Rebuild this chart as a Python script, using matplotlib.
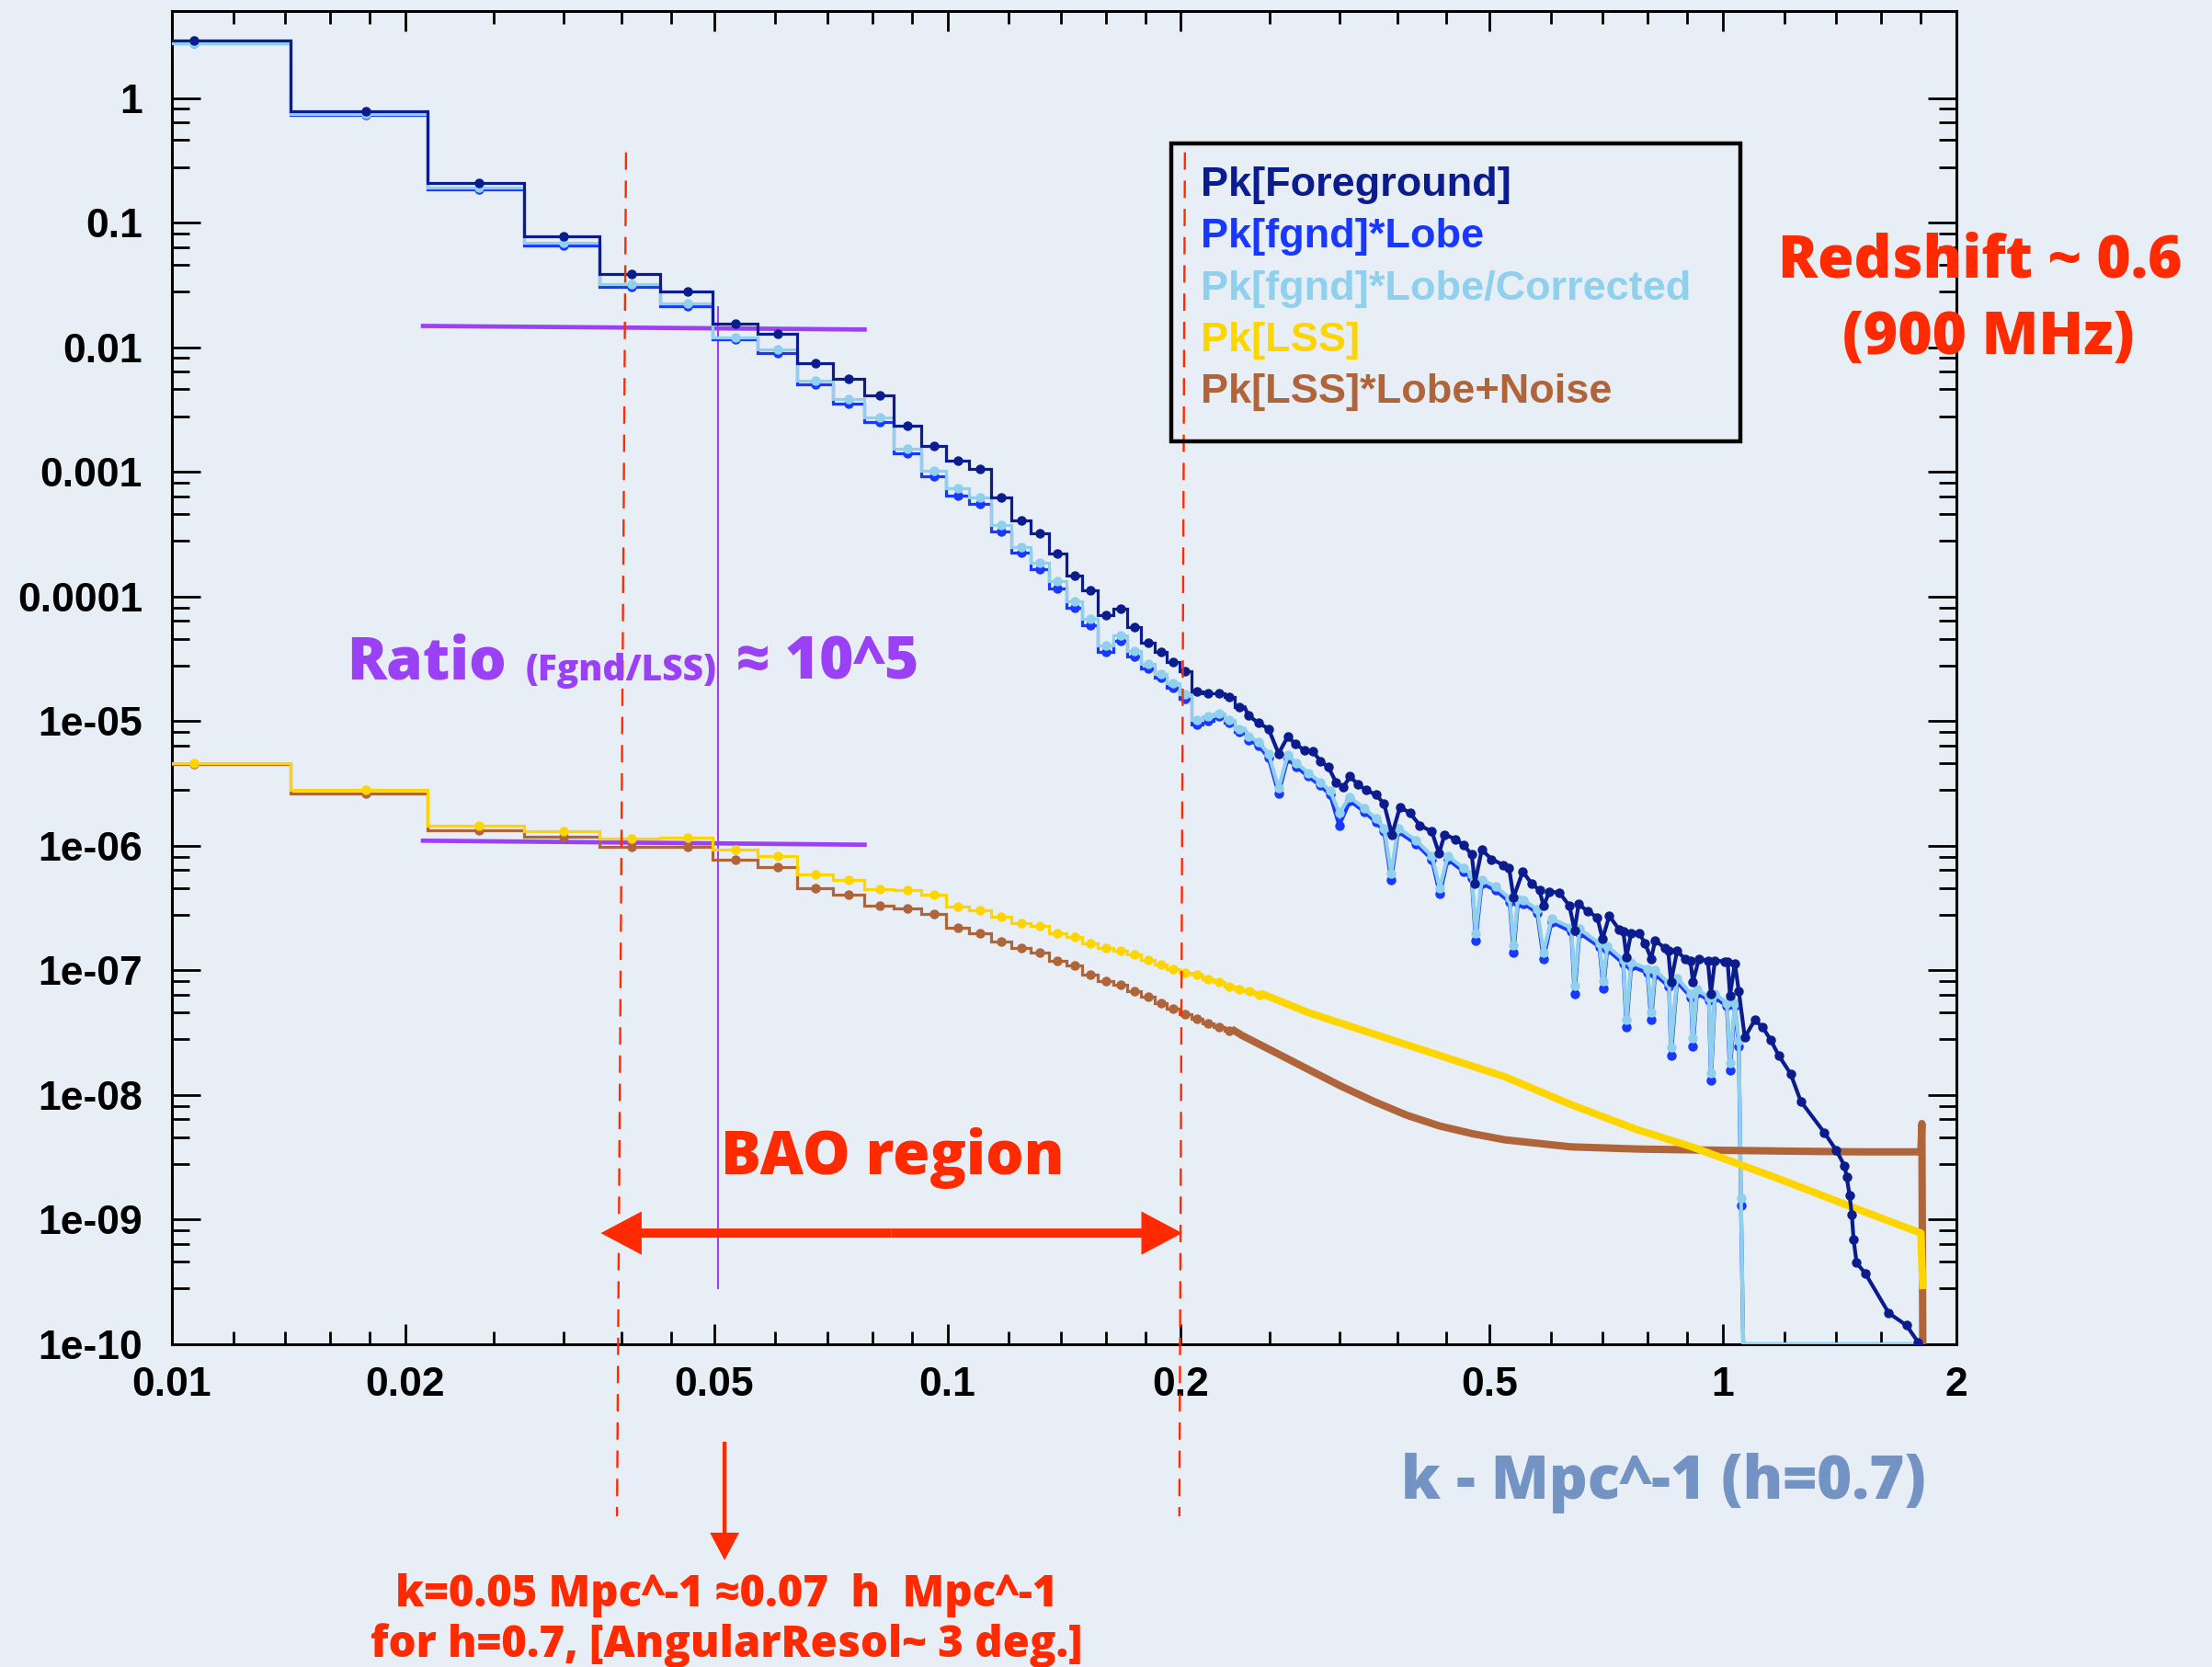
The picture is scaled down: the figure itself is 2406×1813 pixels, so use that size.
import numpy as np
import matplotlib
matplotlib.use("Agg")
import matplotlib.pyplot as plt
import matplotlib.transforms as mtransforms
from matplotlib.patches import Rectangle
from matplotlib.ticker import FixedLocator, FixedFormatter, NullFormatter

W, H, DPI = 2406, 1813, 100
YMIN, YMAX = 1e-10, 5.0
XMIN, XMAX = 0.01, 2.0

# histogram bin width in k (Mpc^-1); bin i spans [i*DK, (i+1)*DK], i = 1, 2, ...
DK = 0.00711

# ---- low-k bins, one value per bin ----
FGND_LOW = [2.90, 0.788, 0.210, 0.0785, 0.0386, 0.0281, 0.0155, 0.01294, 0.0075, 5.55e-3,
            4.12e-3, 2.34e-3, 1.62e-3, 1.24e-3, 1.05e-3, 6.3e-4, 4.1e-4, 3.2e-4, 2.2e-4, 1.48e-4,
            1.13e-4, 7.1e-5, 8.0e-5, 5.7e-5, 4.3e-5, 3.6e-5, 3.0e-5, 2.5e-5, 1.72e-5, 1.68e-5,
            1.68e-5, 1.56e-5, 1.29e-5]
LOBE_LOW = [2.74, 0.736, 0.184, 0.066, 0.0308, 0.0215, 0.01155, 0.00906, 5.07e-3, 3.55e-3,
            2.52e-3, 1.41e-3, 9.3e-4, 6.5e-4, 5.5e-4, 3.33e-4, 2.24e-4, 1.66e-4, 1.16e-4, 8.2e-5,
            5.9e-5, 3.6e-5, 4.4e-5, 3.33e-5, 2.66e-5, 2.24e-5, 1.87e-5, 1.51e-5, 9.4e-6, 1.0e-5,
            1.09e-5, 9.75e-6, 8.2e-6]
CORR_LOW = [2.78, 0.745, 0.192, 0.0689, 0.0321, 0.0224, 0.0120, 0.00964, 5.37e-3, 3.83e-3,
            2.72e-3, 1.54e-3, 1.03e-3, 7.45e-4, 6.3e-4, 3.77e-4, 2.5e-4, 1.88e-4, 1.32e-4, 9.1e-5,
            6.6e-5, 4.07e-5, 4.9e-5, 3.63e-5, 2.9e-5, 2.41e-5, 2.02e-5, 1.64e-5, 1.03e-5, 1.09e-5,
            1.16e-5, 1.02e-5, 8.7e-6]
LSS_LOW = [4.64e-6, 2.8e-6, 1.46e-6, 1.31e-6, 1.14e-6, 1.16e-6, 9.4e-7, 8.3e-7, 5.9e-7, 5.3e-7,
           4.5e-7, 4.4e-7, 4.07e-7, 3.23e-7, 3.02e-7, 2.69e-7, 2.4e-7, 2.27e-7, 2.0e-7, 1.85e-7,
           1.66e-7, 1.51e-7, 1.44e-7, 1.34e-7, 1.21e-7, 1.11e-7, 1.02e-7, 9.6e-8, 9.2e-8, 8.5e-8,
           8.1e-8, 7.4e-8, 7.0e-8, 6.8e-8, 6.4e-8]
NOISE_LOW = [4.49e-6, 2.62e-6, 1.33e-6, 1.18e-6, 9.8e-7, 9.8e-7, 7.7e-7, 6.7e-7, 4.57e-7, 4.07e-7,
             3.29e-7, 3.16e-7, 2.82e-7, 2.21e-7, 1.98e-7, 1.71e-7, 1.51e-7, 1.39e-7, 1.19e-7, 1.09e-7,
             9.3e-8, 8.2e-8, 7.7e-8, 6.76e-8, 6.2e-8, 5.45e-8, 4.92e-8, 4.47e-8, 4.1e-8, 3.77e-8,
             3.5e-8, 3.27e-8]

# ---- high-k part, read point by point ----
FGND_TAIL_K = [0.2444, 0.2518, 0.2594, 0.2673, 0.2746, 0.2811, 0.2885, 0.2961, 0.3025, 0.3097,
               0.3171, 0.3239, 0.3305, 0.3385, 0.3466, 0.3570, 0.3656, 0.3743, 0.3833, 0.3948,
               0.4066, 0.4213, 0.4304, 0.4376, 0.4523, 0.4632, 0.4743, 0.4788, 0.4886, 0.5032,
               0.5214, 0.5300, 0.5370, 0.5518, 0.5664, 0.5800, 0.5870, 0.5975, 0.6155, 0.6339,
               0.6437, 0.6514, 0.6686, 0.6887, 0.6993, 0.7136, 0.7349, 0.7440, 0.7508, 0.7615,
               0.7797, 0.7937, 0.8080, 0.8176, 0.8419, 0.8500, 0.8570, 0.8726, 0.8934, 0.9080,
               0.9147, 0.9312, 0.9560, 0.9649, 0.9763, 1.0057, 1.0140, 1.0212, 1.0359, 1.0482,
               1.0670, 1.0990, 1.1254, 1.1524, 1.1800, 1.2225, 1.2600, 1.3510, 1.4000, 1.4350,
               1.4440, 1.4560, 1.4660, 1.4740, 1.4870, 1.5260, 1.6360, 1.7240, 1.7850]
FGND_TAIL = [1.11e-5, 9.7e-6, 8.7e-6, 5.5e-6, 7.5e-6, 6.56e-6, 5.85e-6, 5.7e-6, 4.8e-6, 4.3e-6,
             3.23e-6, 2.96e-6, 3.6e-6, 3.1e-6, 2.8e-6, 2.57e-6, 2.17e-6, 1.23e-6, 2.05e-6, 1.83e-6,
             1.46e-6, 1.30e-6, 8.7e-7, 1.23e-6, 1.13e-6, 1.01e-6, 8.5e-7, 5.0e-7, 9.3e-7, 7.8e-7,
             7.0e-7, 6.6e-7, 3.85e-7, 6.2e-7, 5.0e-7, 4.4e-7, 3.3e-7, 4.3e-7, 4.2e-7, 3.3e-7,
             2.1e-7, 3.4e-7, 3.0e-7, 2.66e-7, 1.79e-7, 2.74e-7, 2.12e-7, 2.05e-7, 1.28e-7, 2.0e-7,
             2.0e-7, 1.64e-7, 1.24e-7, 1.74e-7, 1.51e-7, 1.45e-7, 8.1e-8, 1.43e-7, 1.24e-7, 1.2e-7,
             8.1e-8, 1.24e-7, 1.2e-7, 6.5e-8, 1.2e-7, 1.18e-7, 1.17e-7, 6.3e-8, 1.14e-7, 6.8e-8,
             2.9e-8, 4.0e-8, 3.5e-8, 2.76e-8, 2.08e-8, 1.48e-8, 8.9e-9, 5.0e-9, 3.6e-9, 2.7e-9,
             2.2e-9, 1.58e-9, 1.1e-9, 6.9e-10, 4.5e-10, 3.7e-10, 1.78e-10, 1.42e-10, 1.04e-10]

LOBE_TAIL_K = [0.2444, 0.2518, 0.2594, 0.2673, 0.2746, 0.2820, 0.2919, 0.3025, 0.3115, 0.3200,
               0.3305, 0.3446, 0.3570, 0.3656, 0.3734, 0.3811, 0.4018, 0.4213, 0.4314, 0.4417,
               0.4632, 0.4743, 0.4799, 0.4886, 0.5091, 0.5307, 0.5370, 0.5440, 0.5534, 0.5760,
               0.5870, 0.6010, 0.6375, 0.6437, 0.6530, 0.6928, 0.7010, 0.7093, 0.7437, 0.7508,
               0.7615, 0.7990, 0.8080, 0.8176, 0.8522, 0.8570, 0.8726, 0.9093, 0.9147, 0.9256,
               0.9591, 0.9649, 0.9763, 1.0116, 1.0212, 1.0359, 1.0482, 1.0550, 1.0620, 1.8100]
LOBE_TAIL = [7.1e-6, 6.4e-6, 5.1e-6, 2.64e-6, 5.0e-6, 4.3e-6, 3.6e-6, 3.05e-6, 2.57e-6, 1.46e-6,
             2.3e-6, 1.88e-6, 1.55e-6, 1.3e-6, 5.3e-7, 1.3e-6, 1.04e-6, 7.8e-7, 4.1e-7, 7.8e-7,
             6.2e-7, 5.5e-7, 1.74e-7, 5.0e-7, 4.4e-7, 3.54e-7, 1.39e-7, 3.5e-7, 3.44e-7, 2.9e-7,
             1.24e-7, 2.45e-7, 2.05e-7, 6.5e-8, 2.0e-7, 1.55e-7, 7.2e-8, 1.47e-7, 1.14e-7, 3.5e-8,
             1.08e-7, 9.6e-8, 4.0e-8, 9.3e-8, 7.4e-8, 2.08e-8, 8.1e-8, 6.1e-8, 2.47e-8, 6.6e-8,
             5.75e-8, 1.32e-8, 6.1e-8, 5.15e-8, 1.57e-8, 5.15e-8, 2.47e-8, 1.3e-9, 0.0, 0.0]
CORR_TAIL = [7.6e-6, 6.8e-6, 5.5e-6, 2.9e-6, 5.35e-6, 4.6e-6, 3.85e-6, 3.25e-6, 2.75e-6, 1.85e-6,
             2.45e-6, 2.0e-6, 1.65e-6, 1.39e-6, 6.0e-7, 1.39e-6, 1.11e-6, 8.3e-7, 4.6e-7, 8.3e-7,
             6.6e-7, 5.9e-7, 2.0e-7, 5.35e-7, 4.7e-7, 3.8e-7, 1.6e-7, 3.75e-7, 3.65e-7, 3.1e-7,
             1.4e-7, 2.6e-7, 2.2e-7, 7.5e-8, 2.15e-7, 1.65e-7, 8.2e-8, 1.57e-7, 1.22e-7, 4.0e-8,
             1.16e-7, 1.03e-7, 4.6e-8, 1.0e-7, 7.9e-8, 2.4e-8, 8.7e-8, 6.5e-8, 2.85e-8, 7.0e-8,
             6.1e-8, 1.5e-8, 6.5e-8, 5.5e-8, 1.8e-8, 5.5e-8, 2.7e-8, 1.5e-9, 0.0, 0.0]

LSS_TAIL_K = [0.2917, 0.3545, 0.4310, 0.5236, 0.6364, 0.7733, 0.9106, 1.175, 1.526,
              1.800, 1.805, 1.810]
LSS_TAIL = [4.6e-8, 3.09e-8, 2.08e-8, 1.40e-8, 8.4e-9, 5.3e-9, 3.85e-9, 2.15e-9, 1.15e-9,
            7.8e-10, 4.4e-10, 2.96e-10]
NOISE_TAIL_K = [0.2400, 0.2646, 0.2917, 0.3216, 0.3545, 0.3908, 0.4310, 0.4750, 0.5236,
                0.6364, 0.7733, 0.9106, 1.200, 1.500, 1.800, 1.805, 1.810]
NOISE_TAIL = [3.0e-8, 2.2e-8, 1.61e-8, 1.18e-8, 8.9e-9, 6.9e-9, 5.65e-9, 4.9e-9, 4.37e-9,
              3.84e-9, 3.69e-9, 3.63e-9, 3.55e-9, 3.5e-9, 3.5e-9, 5.9e-9, 0.0]

LEGEND_LABELS = ["Pk[Foreground]", "Pk[fgnd]*Lobe", "Pk[fgnd]*Lobe/Corrected", "Pk[LSS]",
                 "Pk[LSS]*Lobe+Noise"]
COLORS = ["#0b1c8e", "#1838ff", "#8fd0ee", "#ffd500", "#b0643a"]

X_TICKS = [0.01, 0.02, 0.05, 0.1, 0.2, 0.5, 1, 2]
X_LABELS = ["0.01", "0.02", "0.05", "0.1", "0.2", "0.5", "1", "2"]
X_MINOR = [0.012, 0.014, 0.016, 0.018, 0.026, 0.032, 0.038, 0.044, 0.06, 0.07, 0.08, 0.09,
           0.12, 0.14, 0.16, 0.18, 0.26, 0.32, 0.38, 0.44, 0.6, 0.7, 0.8, 0.9, 1.2, 1.4, 1.6, 1.8]
Y_TICKS = [1, 0.1, 0.01, 0.001, 1e-4, 1e-5, 1e-6, 1e-7, 1e-8, 1e-9, 1e-10]
Y_LABELS = ["1", "0.1", "0.01", "0.001", "0.0001", "1e-05", "1e-06", "1e-07", "1e-08",
            "1e-09", "1e-10"]
Y_MINOR_FRAC = [0.82, 0.64, 0.46, 0.28]

# annotation geometry (data units)
RATIO_K = [0.02094, 0.0787]
RATIO_FGND = [0.01486, 0.0139]
RATIO_LSS = [1.10e-6, 1.02e-6]
PIVOT_K = 0.0506
PIVOT_V = [2.8e-10, 0.0211]
BAO_K = [0.03573, 0.2008]
BAO_V = 7.8e-10

RED = "#ff2a00"
PURPLE = "#9a40f5"
BG = "#e8eef6"
GILL = ["Open Sans", "DejaVu Sans"]

plt.rcParams["font.family"] = ["Liberation Sans", "DejaVu Sans"]
plt.rcParams["font.weight"] = "bold"

fig = plt.figure(figsize=(W / DPI, H / DPI), dpi=DPI)
fig.patch.set_facecolor(BG)
ax = fig.add_axes([187 / W, 1 - 1462 / H, (2128 - 187) / W, (1462 - 12) / H])
ax.set_facecolor("none")
ax.set_xscale("log")
ax.set_yscale("log")
ax.set_xlim(XMIN, XMAX)
ax.set_ylim(YMIN, YMAX)


def fx(x):
    return x / W


def fy(y):
    return 1 - y / H


def draw_series(low, tail_k, tail_v, color, z, tail_lw, tail_marks):
    low = np.asarray(low)
    n = len(low)
    edges = np.arange(1, n + 2) * DK
    centers = (np.arange(1, n + 1) + 0.5) * DK
    ax.stairs(low, edges, baseline=None, color=color, lw=2.3, zorder=z)
    ax.plot(centers, low, "o", color=color, ms=6.5, zorder=z)
    tail_k = np.asarray(tail_k)
    tail_v = np.asarray(tail_v)
    tk = np.r_[edges[-1], tail_k]
    tv = np.r_[low[-1], tail_v]
    ax.plot(tk, np.where(tv > 0, tv, YMIN), color=color, lw=tail_lw, zorder=z,
            solid_joinstyle="round")
    if tail_marks:
        m = tail_v > 0
        ax.plot(tail_k[m], tail_v[m], "o", color=color, ms=6.5, zorder=z)


# ratio guide lines (under the curves)
ax.plot(RATIO_K, RATIO_FGND, color=PURPLE, lw=3.4, zorder=1.8, solid_capstyle="butt")
ax.plot(RATIO_K, RATIO_LSS, color=PURPLE, lw=3.4, zorder=1.8, solid_capstyle="butt")
ax.plot([PIVOT_K, PIVOT_K], PIVOT_V, color=PURPLE, lw=1.5, zorder=1.8)

draw_series(LOBE_LOW, LOBE_TAIL_K, LOBE_TAIL, COLORS[1], 3, 3.0, True)
draw_series(CORR_LOW, LOBE_TAIL_K, CORR_TAIL, COLORS[2], 3.2, 3.0, True)
draw_series(NOISE_LOW, NOISE_TAIL_K, NOISE_TAIL, COLORS[4], 3.4, 5.8, False)
draw_series(LSS_LOW, LSS_TAIL_K, LSS_TAIL, COLORS[3], 3.6, 5.8, False)
draw_series(FGND_LOW, FGND_TAIL_K, FGND_TAIL, COLORS[0], 3.8, 3.0, True)

# ticks
ax.xaxis.set_major_locator(FixedLocator(X_TICKS))
ax.xaxis.set_major_formatter(FixedFormatter(X_LABELS))
ax.xaxis.set_minor_locator(FixedLocator(X_MINOR))
ax.xaxis.set_minor_formatter(NullFormatter())
y_minor = [f * t for t in Y_TICKS[:-1] for f in Y_MINOR_FRAC]
ax.yaxis.set_major_locator(FixedLocator(Y_TICKS))
ax.yaxis.set_major_formatter(FixedFormatter(Y_LABELS))
ax.yaxis.set_minor_locator(FixedLocator(y_minor))
ax.yaxis.set_minor_formatter(NullFormatter())
ax.tick_params(axis="x", which="major", direction="in", length=16, width=2,
               top=True, bottom=True, pad=17, labelsize=32)
ax.tick_params(axis="x", which="minor", direction="in", length=10, width=2, top=True, bottom=True)
ax.tick_params(axis="y", which="major", direction="in", length=22, width=2,
               left=True, right=True, pad=23, labelsize=32)
ax.tick_params(axis="y", which="minor", direction="in", length=14, width=2, left=True, right=True)
for s in ax.spines.values():
    s.set_linewidth(2.2)

# red dashed markers of the BAO range, running below the axis
trans = mtransforms.blended_transform_factory(ax.transData, ax.transAxes)
ax.plot([0.03851, 0.03749], [0.894, -0.129], transform=trans, clip_on=False, color=RED,
        lw=1.7, ls=(0, (8, 5)), zorder=6)
ax.plot([0.2024, 0.1991], [0.894, -0.129], transform=trans, clip_on=False, color=RED,
        lw=1.7, ls=(0, (8, 5)), zorder=6)

# BAO double arrow
mid = np.sqrt(BAO_K[0] * BAO_K[1])
for end in BAO_K:
    ax.annotate("", xy=(end, BAO_V), xytext=(mid, BAO_V),
                arrowprops=dict(arrowstyle="simple,head_length=1.6,head_width=1.7,tail_width=0.36",
                                mutation_scale=20, fc=RED, ec="none", lw=0,
                                shrinkA=0, shrinkB=0), annotation_clip=False, zorder=7)
# down arrow under the axis
ax.annotate("", xy=(0.0516, -0.162), xytext=(0.0516, -0.0731), xycoords=trans,
            arrowprops=dict(arrowstyle="simple,head_length=1.08,head_width=1.15,tail_width=0.16",
                            mutation_scale=20, fc=RED, ec="none", lw=0,
                            shrinkA=0, shrinkB=0), annotation_clip=False)

# legend box with coloured labels
fig.add_artist(Rectangle((fx(1274), fy(480)), (1893 - 1274) / W, (480 - 156) / H,
                         transform=fig.transFigure, fill=False, ec="black", lw=3.2))
for i, (lab, c) in enumerate(zip(LEGEND_LABELS, COLORS)):
    fig.text(fx(1306), fy(213 + 56.3 * i), lab, color=c, fontsize=32.5, va="baseline")

# annotations
fig.text(fx(377), fy(738.3), "Ratio", color=PURPLE, fontsize=46, family=GILL,
         weight="heavy", va="baseline")
fig.text(fx(571.7), fy(740), "(Fgnd/LSS)", color=PURPLE, fontsize=28, family=GILL,
         weight="heavy", va="baseline")
fig.text(fx(801), fy(738.3), "\u2248 10^5", color=PURPLE, fontsize=46, family=GILL,
         weight="heavy", va="baseline")
fig.text(fx(783.7), fy(1276.7), "BAO region", color=RED, fontsize=47, family=GILL,
         weight="heavy", va="baseline")
fig.text(fx(2154), fy(301.7), "Redshift ~ 0.6", color=RED, fontsize=46, family=GILL,
         weight="heavy", va="baseline", ha="center")
fig.text(fx(2163), fy(385), "(900 MHz)", color=RED, fontsize=46, family=GILL,
         weight="heavy", va="baseline", ha="center")
fig.text(fx(1524), fy(1630), "k - Mpc^-1 (h=0.7)", color="#7393c4", fontsize=47, family=GILL,
         weight="heavy", va="baseline")
fig.text(fx(790), fy(1746.7), "k=0.05 Mpc^-1 \u22480.07  h  Mpc^-1", color=RED, fontsize=34,
         family=GILL, weight="heavy", va="baseline", ha="center")
fig.text(fx(790), fy(1801.7), "for h=0.7, [AngularResol~ 3 deg.]", color=RED, fontsize=34,
         family=GILL, weight="heavy", va="baseline", ha="center")

fig.savefig("out.png", dpi=DPI, facecolor=BG)
